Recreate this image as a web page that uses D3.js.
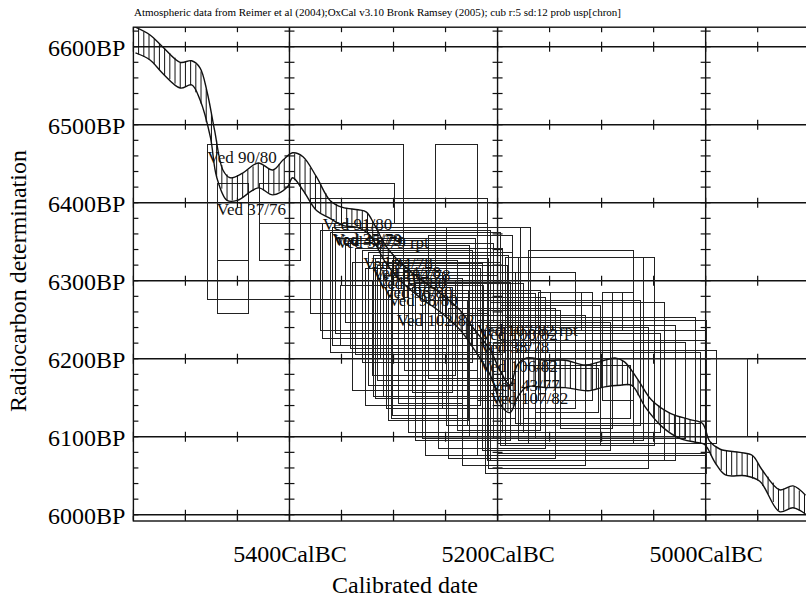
<!DOCTYPE html>
<html><head><meta charset="utf-8">
<script src="https://cdn.jsdelivr.net/npm/d3@7"></script>
<style>body{margin:0;background:#fff}svg{display:block}</style>
</head><body><svg id="c" width="806" height="599"></svg>
<script>
const titleText = "Atmospheric data from Reimer et al (2004);OxCal v3.10 Bronk Ramsey (2005); cub r:5 sd:12 prob usp[chron]";
const xTicks = [5400, 5200, 5000];
const yTicks = [6600, 6500, 6400, 6300, 6200, 6100, 6000];
const xTitle = "Calibrated date";
const yTitle = "Radiocarbon determination";

// calibration curve, +1 sigma line
const upperYears = [5548,5534,5522,5505,5494,5486,5479,5472,5464,5457,5445,5430,5416,5406,5397,5387,5374,5361,5349,5334,5326,5318,5308,5294,5275,5255,5236,5222,5207,5198,5188,5181,5172,5154,5135,5116,5102,5087,5078,5065,5052,5034,5015,5003,4996,4986,4967,4955,4946,4929,4916,4904];
const upperBP    = [6625,6615,6600,6580,6582,6573,6541,6493,6442,6432,6438,6451,6442,6455,6464,6459,6433,6403,6394,6391,6388,6371,6346,6324,6303,6284,6262,6237,6211,6186,6166,6192,6201,6198,6198,6192,6196,6201,6196,6173,6147,6130,6122,6117,6094,6084,6080,6076,6058,6032,6037,6025];
// calibration curve, -1 sigma line
const lowerYears = [5548,5534,5522,5505,5494,5486,5476,5470,5460,5450,5430,5416,5402,5397,5387,5374,5361,5349,5334,5323,5308,5294,5275,5255,5236,5222,5207,5195,5188,5181,5172,5154,5135,5113,5097,5082,5071,5058,5042,5025,5010,5001,4991,4981,4962,4948,4929,4916,4904];
const lowerBP    = [6592,6583,6566,6547,6551,6532,6484,6433,6403,6403,6419,6410,6420,6432,6416,6390,6380,6371,6368,6359,6324,6301,6279,6260,6237,6211,6179,6137,6131,6150,6164,6163,6163,6159,6164,6166,6166,6138,6113,6098,6093,6090,6067,6051,6050,6043,6004,6009,6001];

// date boxes: calibrated range (cal BC) and radiocarbon range (BP)
const boxFrom   = [5479,5470,5470,5429,5429,5380,5260,5369,5359,5371,5330,5320,5316,5301,5290,5310,5351,5250,5229,5220,5171,5180,5193,5161,5150,5100,5090,5207,5193,5201,5227,5212,5201,5140,5340,5327,5321,5305,5279,5270,5239,5210,5220,5198,5342,5313,
                   5361,5356,5347,5337,5325,5318,5307,5302,5296,5286,5282,5273,5257,5248,5234,5215,5209,5196,5204,5183,5176,5164,5267,5253];
const boxTo     = [5291,5440,5440,5390,5300,5210,5220,5210,5169,5207,5225,5190,5191,5239,5260,5201,5214,5178,5063,5000,5070,5060,5050,5109,5120,5070,5080,5040,5010,4990,4960,5000,5000,5090,5198,5217,5241,5228,5188,5201,5159,5029,5140,5102,5250,5227,
                   5198,5222,5204,5196,5186,5209,5215,5183,5234,5176,5244,5164,5154,5145,5116,5092,5055,5044,5020,5005,5073,5103,5186,5126];
const boxTop    = [6475,6425,6425,6425,6425,6406,6475,6374,6369,6365,6339,6333,6320,6327,6314,6307,6295,6369,6275,6250,6339,6330,6330,6286,6286,6286,6286,6273,6254,6211,6201,6237,6224,6250,6324,6316,6301,6288,6298,6275,6288,6243,6263,6269,6352,6346,
                   6362,6355,6348,6342,6337,6329,6323,6311,6304,6297,6292,6284,6279,6265,6256,6247,6241,6233,6222,6209,6192,6188,6359,6311];
const boxBottom = [6277,6259,6327,6327,6374,6259,6186,6227,6218,6237,6196,6152,6173,6128,6186,6152,6218,6115,6115,6077,6092,6096,6089,6147,6237,6147,6237,6070,6092,6092,6101,6054,6079,6111,6160,6141,6179,6121,6096,6077,6109,6070,6147,6089,6214,6201,
                   6209,6233,6247,6206,6166,6150,6137,6124,6143,6106,6157,6098,6086,6073,6064,6083,6060,6106,6098,6118,6124,6132,6175,6137];

// sample labels and their anchor (cal BC, BP)
const labelText = ["Ved 90/80","Ved 37/76","Ved 91/80","Ved 35/79","Ved 45/79","Ved 38/79 rpt","Ved 94/78","Ved 84/78","Ved 104/78","Ved 97/80","Ved 96/80","Ved 98/80","Ved 102/82","Ved 107/82 rpt","Ved 108/82","Ved 38/78","Ved 106/82","Ved 43/77","Ved 107/82"];
const labelYear = [5479,5470,5368,5359,5358,5355,5329,5321,5320,5316,5310,5305,5297,5220,5217,5217,5217,5207,5207];
const labelBP   = [6459,6392,6373,6354,6352,6350,6323,6311,6307,6297,6286,6275,6250,6237,6232,6215,6191,6166,6150];

const svg = d3.select("#c");
const W = 806, H = 599;
const x = d3.scaleLinear().domain([5550, 4900]).range([133.4, 809.7]);
const y = d3.scaleLinear().domain([5992, 6625]).range([521, 27.2]);
const serif = "'Liberation Serif', 'Times New Roman', serif";
const X0 = x(5550), X1 = x(4900), Y0 = y(6625), Y1 = y(5992);

svg.append("rect").attr("width", W).attr("height", H).attr("fill", "#fff");

// title
svg.append("text").attr("x", 134).attr("y", 16).attr("font-family", serif).attr("font-size", 11)
  .attr("fill", "#000").text(titleText);

const plot = svg.append("g");
plot.append("clipPath").attr("id", "clip").append("rect")
  .attr("x", X0).attr("y", Y0).attr("width", X1 - X0).attr("height", Y1 - Y0);

// grid lines
const grid = plot.append("g").attr("stroke", "#111").attr("stroke-width", 1.4);
yTicks.forEach(v => grid.append("line").attr("x1", X0).attr("x2", X1).attr("y1", y(v)).attr("y2", y(v)));
xTicks.forEach(v => grid.append("line").attr("x1", x(v)).attr("x2", x(v)).attr("y1", Y0).attr("y2", Y1));

// minor ticks
const minor = plot.append("g").attr("stroke", "#111").attr("stroke-width", 1.2);
const yearMinor = d3.range(5550, 4899, -50);
const bpMinor = d3.range(6000, 6625, 20);
[...yTicks, 6625, 5992].forEach(v => {
  yearMinor.forEach(t => minor.append("line").attr("x1", x(t)).attr("x2", x(t))
    .attr("y1", Math.max(Y0, y(v) - 5)).attr("y2", Math.min(Y1, y(v) + 5)));
});
[...xTicks, 5550].forEach(v => {
  bpMinor.forEach(t => minor.append("line").attr("y1", y(t)).attr("y2", y(t))
    .attr("x1", Math.max(X0, x(v) - 5)).attr("x2", x(v) + 5));
});

// boxes
const boxes = d3.range(boxFrom.length).map(i => ({a: boxFrom[i], b: boxTo[i], t: boxTop[i], u: boxBottom[i]}));
plot.append("g").attr("clip-path", "url(#clip)").selectAll("rect").data(boxes).join("rect")
  .attr("x", d => Math.round(x(d.a)) + 0.5).attr("y", d => Math.round(y(d.t)) + 0.5)
  .attr("width", d => Math.round(x(d.b)) - Math.round(x(d.a)))
  .attr("height", d => Math.round(y(d.u)) - Math.round(y(d.t)))
  .attr("fill", "none").attr("stroke", "#222").attr("stroke-width", 1);

// calibration curve
const upInt = d3.scaleLinear().domain(upperYears).range(upperBP);
const loInt = d3.scaleLinear().domain(lowerYears).range(lowerBP);
const cg = plot.append("g").attr("clip-path", "url(#clip)");
d3.range(5550, 4899, -5).forEach(yr => {
  cg.append("line").attr("x1", x(yr)).attr("x2", x(yr)).attr("y1", y(upInt(yr))).attr("y2", y(loInt(yr)))
    .attr("stroke", "#111").attr("stroke-width", 1);
});
const line = d3.line().x(d => x(d[0])).y(d => y(d[1])).curve(d3.curveCatmullRom.alpha(0.5));
cg.append("path").attr("d", line(upperYears.map((v, i) => [v, upperBP[i]])))
  .attr("fill", "none").attr("stroke", "#111").attr("stroke-width", 1.4);
cg.append("path").attr("d", line(lowerYears.map((v, i) => [v, lowerBP[i]])))
  .attr("fill", "none").attr("stroke", "#111").attr("stroke-width", 1.4);

// labels
plot.append("g").selectAll("text").data(labelText).join("text")
  .attr("x", (d, i) => x(labelYear[i])).attr("y", (d, i) => y(labelBP[i]) + 6)
  .attr("font-family", serif).attr("font-size", 17).attr("fill", "#111").text(d => d);

// frame
plot.append("rect").attr("x", X0).attr("y", Y0).attr("width", X1 - X0).attr("height", Y1 - Y0)
  .attr("fill", "none").attr("stroke", "#111").attr("stroke-width", 1.4);

// axes labels via d3 axes
const ax = svg.append("g").attr("transform", `translate(${X0},0)`)
  .call(d3.axisLeft(y).tickValues(yTicks).tickFormat(d => d + "BP").tickSize(0).tickPadding(8));
ax.select(".domain").remove();
ax.selectAll("text").attr("font-family", serif).attr("font-size", 24).attr("fill", "#000").attr("dy", "0.35em");

const bx = svg.append("g").attr("transform", `translate(0,${Y1})`)
  .call(d3.axisBottom(x).tickValues(xTicks).tickFormat(d => d + "CalBC").tickSize(0).tickPadding(24));
bx.select(".domain").remove();
bx.selectAll("text").attr("font-family", serif).attr("font-size", 24).attr("fill", "#000");

svg.append("text").attr("x", 405).attr("y", 593).attr("text-anchor", "middle")
  .attr("font-family", serif).attr("font-size", 24).attr("fill", "#000").text(xTitle);
svg.append("text").attr("transform", "translate(26,281) rotate(-90)").attr("text-anchor", "middle")
  .attr("font-family", serif).attr("font-size", 24).attr("fill", "#000").text(yTitle);
</script></body></html>
